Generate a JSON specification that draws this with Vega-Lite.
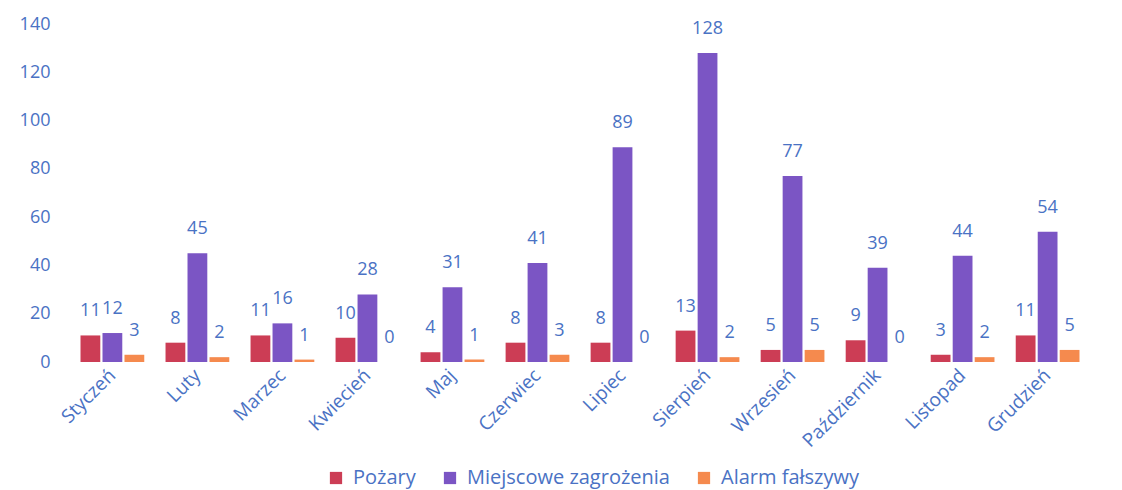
{
  "$schema": "https://vega.github.io/schema/vega-lite/v6.json",
  "autosize": "none",
  "width": 1016,
  "height": 338,
  "padding": {"left": 72, "top": 24, "right": 34, "bottom": 128},
  "background": "white",
  "config": {
    "view": {"stroke": null},
    "font": "Open Sans",
    "text": {"font": "Open Sans"}
  },
  "data": {
    "values": [
      {"m": "Styczeń", "s": "Pożary", "v": 11}, {"m": "Styczeń", "s": "Miejscowe zagrożenia", "v": 12}, {"m": "Styczeń", "s": "Alarm fałszywy", "v": 3},
      {"m": "Luty", "s": "Pożary", "v": 8}, {"m": "Luty", "s": "Miejscowe zagrożenia", "v": 45}, {"m": "Luty", "s": "Alarm fałszywy", "v": 2},
      {"m": "Marzec", "s": "Pożary", "v": 11}, {"m": "Marzec", "s": "Miejscowe zagrożenia", "v": 16}, {"m": "Marzec", "s": "Alarm fałszywy", "v": 1},
      {"m": "Kwiecień", "s": "Pożary", "v": 10}, {"m": "Kwiecień", "s": "Miejscowe zagrożenia", "v": 28}, {"m": "Kwiecień", "s": "Alarm fałszywy", "v": 0},
      {"m": "Maj", "s": "Pożary", "v": 4}, {"m": "Maj", "s": "Miejscowe zagrożenia", "v": 31}, {"m": "Maj", "s": "Alarm fałszywy", "v": 1},
      {"m": "Czerwiec", "s": "Pożary", "v": 8}, {"m": "Czerwiec", "s": "Miejscowe zagrożenia", "v": 41}, {"m": "Czerwiec", "s": "Alarm fałszywy", "v": 3},
      {"m": "Lipiec", "s": "Pożary", "v": 8}, {"m": "Lipiec", "s": "Miejscowe zagrożenia", "v": 89}, {"m": "Lipiec", "s": "Alarm fałszywy", "v": 0},
      {"m": "Sierpień", "s": "Pożary", "v": 13}, {"m": "Sierpień", "s": "Miejscowe zagrożenia", "v": 128}, {"m": "Sierpień", "s": "Alarm fałszywy", "v": 2},
      {"m": "Wrzesień", "s": "Pożary", "v": 5}, {"m": "Wrzesień", "s": "Miejscowe zagrożenia", "v": 77}, {"m": "Wrzesień", "s": "Alarm fałszywy", "v": 5},
      {"m": "Październik", "s": "Pożary", "v": 9}, {"m": "Październik", "s": "Miejscowe zagrożenia", "v": 39}, {"m": "Październik", "s": "Alarm fałszywy", "v": 0},
      {"m": "Listopad", "s": "Pożary", "v": 3}, {"m": "Listopad", "s": "Miejscowe zagrożenia", "v": 44}, {"m": "Listopad", "s": "Alarm fałszywy", "v": 2},
      {"m": "Grudzień", "s": "Pożary", "v": 11}, {"m": "Grudzień", "s": "Miejscowe zagrożenia", "v": 54}, {"m": "Grudzień", "s": "Alarm fałszywy", "v": 5}
    ]
  },
  "encoding": {
    "x": {
      "field": "m", "type": "nominal", "sort": null,
      "scale": {"paddingInner": 0.25, "paddingOuter": 0.1},
      "axis": {
        "title": null, "domain": false, "ticks": false, "labelAngle": -45,
        "labelColor": "#4a72c4", "labelFontSize": 19, "labelPadding": 10,
        "labelAlign": "right", "labelBaseline": "middle", "labelLimit": 0
      }
    },
    "xOffset": {
      "field": "s", "type": "nominal",
      "sort": ["Pożary", "Miejscowe zagrożenia", "Alarm fałszywy"],
      "scale": {"paddingInner": 0.1}
    },
    "y": {
      "field": "v", "type": "quantitative",
      "scale": {"domain": [0, 140]},
      "axis": {
        "title": null, "domain": false, "ticks": false, "grid": false,
        "values": [0, 20, 40, 60, 80, 100, 120, 140],
        "labelColor": "#4a72c4", "labelFontSize": 18, "labelPadding": 22
      }
    }
  },
  "layer": [
    {
      "mark": {"type": "bar"},
      "encoding": {
        "color": {
          "field": "s", "type": "nominal",
          "sort": ["Pożary", "Miejscowe zagrożenia", "Alarm fałszywy"],
          "scale": {
            "domain": ["Pożary", "Miejscowe zagrożenia", "Alarm fałszywy"],
            "range": ["#cc3d55", "#7b55c4", "#f58a4e"]
          },
          "legend": {
            "title": null, "orient": "none", "direction": "horizontal",
            "legendX": 254, "legendY": 444,
            "symbolType": "square", "symbolSize": 150, "symbolStrokeWidth": 0,
            "labelColor": "#4a72c4", "labelFontSize": 20, "labelLimit": 0,
            "columnPadding": 24, "labelOffset": 7
          }
        }
      }
    },
    {
      "mark": {"type": "text", "dy": -24, "fontSize": 18, "color": "#4a72c4"},
      "encoding": {"text": {"field": "v", "type": "quantitative"}}
    }
  ]
}
